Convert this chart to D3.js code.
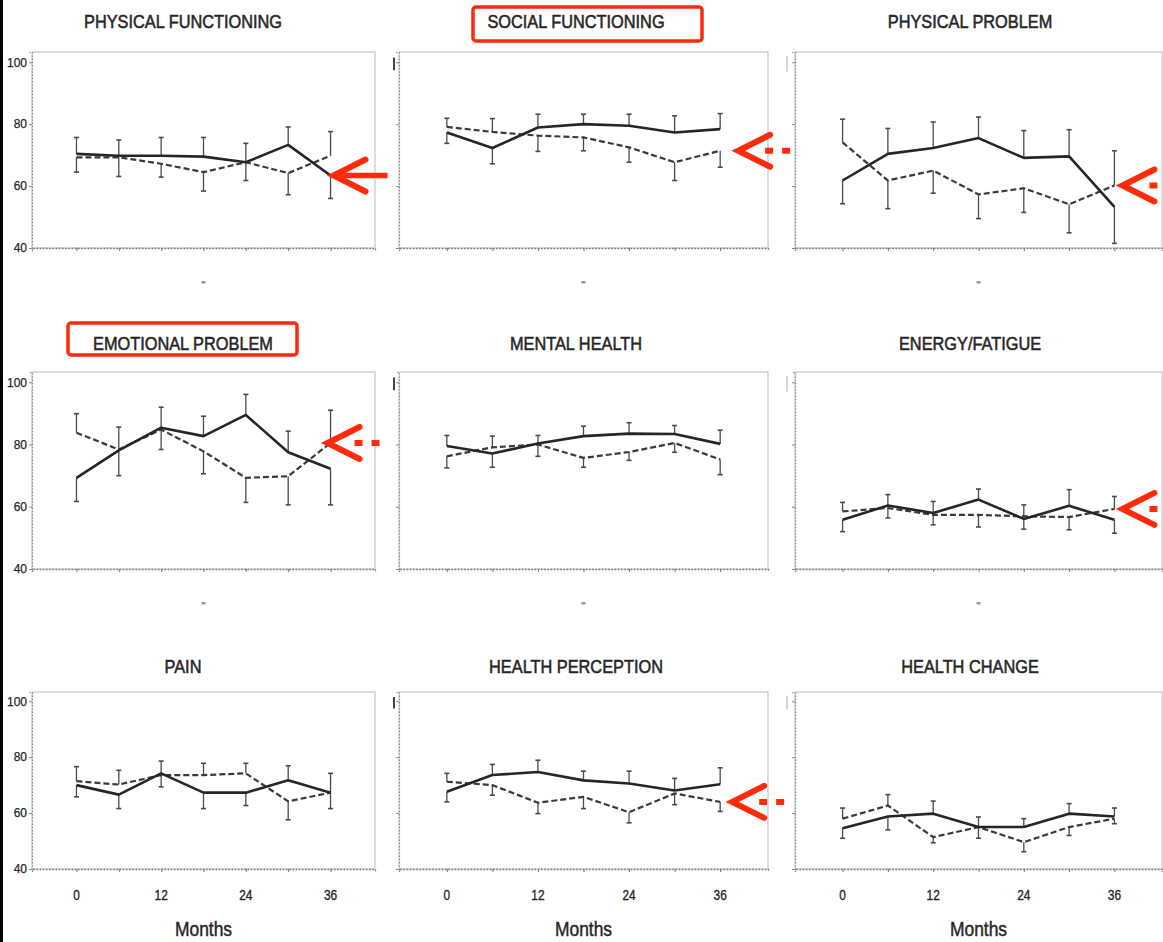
<!DOCTYPE html>
<html>
<head>
<meta charset="utf-8">
<script src="https://cdn.jsdelivr.net/npm/d3@7"></script>
<style>
  body { margin: 0; background: #fff; }
  svg { display: block; }
</style>
</head>
<body>
<script>
// Follow-up months and tick labels
const months = [0, 6, 12, 18, 24, 30, 36];
const monthLabels = [0, 12, 24, 36];
const scoreTicks = [40, 60, 80, 100];
const xTitle = "Months";

// Scale titles, in grid order (row by row)
const titles = [
  "PHYSICAL FUNCTIONING", "SOCIAL FUNCTIONING", "PHYSICAL PROBLEM",
  "EMOTIONAL PROBLEM", "MENTAL HEALTH", "ENERGY/FATIGUE",
  "PAIN", "HEALTH PERCEPTION", "HEALTH CHANGE"
];

// Mean scores per group (solid / dashed) and their error-bar half widths
const physFuncSolid     = [70.4, 69.8, 69.8, 69.5, 67.7, 73.3, 63.4];
const physFuncDashed    = [69.3, 69.3, 67.2, 64.5, 67.7, 64.2, 69.8];
const physFuncSolidErr  = [5.3, 5.1, 5.9, 6.2, 6.1, 5.8, 7.4];
const physFuncDashedErr = [4.8, 6.2, 4.3, 6.1, 5.9, 7.0, 7.8];

const socialSolid     = [77.3, 72.3, 78.9, 80.0, 79.5, 77.3, 78.4];
const socialDashed    = [79.1, 77.5, 76.3, 75.7, 72.5, 67.7, 71.4];
const socialSolidErr  = [3.5, 5.1, 4.3, 3.2, 3.7, 5.4, 5.0];
const socialDashedErr = [2.8, 4.3, 5.1, 4.3, 4.8, 5.9, 5.3];

const physProbSolid     = [61.8, 70.4, 72.3, 75.5, 69.1, 69.6, 53.3];
const physProbDashed    = [74.1, 61.8, 65.0, 57.3, 59.3, 54.1, 60.2];
const physProbSolidErr  = [7.5, 8.2, 8.4, 6.8, 8.8, 8.6, 11.8];
const physProbDashedErr = [7.5, 9.1, 7.3, 7.8, 7.8, 9.2, 11.2];

const emoProbSolid     = [69.3, 78.1, 85.4, 82.7, 89.5, 77.5, 72.2];
const emoProbDashed    = [83.8, 78.4, 84.8, 77.8, 69.3, 69.8, 80.5];
const emoProbSolidErr  = [7.6, 8.1, 6.6, 6.4, 6.6, 6.8, 11.6];
const emoProbDashedErr = [6.1, 7.2, 6.4, 7.2, 7.9, 9.2, 10.5];

const mentalSolid     = [79.5, 77.1, 80.3, 82.7, 83.5, 83.4, 80.2];
const mentalDashed    = [76.2, 79.1, 80.0, 75.7, 77.6, 80.5, 75.2];
const mentalSolidErr  = [3.4, 4.4, 2.6, 3.2, 3.5, 2.7, 4.4];
const mentalDashedErr = [3.7, 3.6, 3.8, 3.0, 2.7, 3.0, 4.9];

const energySolid     = [55.8, 60.4, 58.0, 62.3, 56.1, 60.3, 55.8];
const energyDashed    = [58.5, 59.6, 57.4, 57.4, 56.9, 56.7, 59.3];
const energySolidErr  = [3.8, 3.5, 3.7, 3.4, 3.3, 5.2, 4.3];
const energyDashedErr = [2.9, 3.2, 3.2, 3.9, 3.7, 4.1, 4.0];

const painSolid     = [70.0, 66.6, 74.2, 67.3, 67.3, 71.7, 67.3];
const painDashed    = [71.4, 70.2, 73.6, 73.6, 74.2, 64.2, 67.3];
const painSolidErr  = [4.2, 5.0, 4.4, 5.7, 4.6, 5.2, 6.9];
const painDashedErr = [5.2, 5.1, 4.2, 4.2, 3.6, 6.6, 5.7];

const perceptSolid     = [67.6, 73.6, 74.7, 71.7, 70.6, 68.1, 70.3];
const perceptDashed    = [71.2, 70.0, 63.7, 65.8, 60.3, 67.0, 64.0];
const perceptSolidErr  = [3.6, 3.8, 4.2, 3.3, 4.4, 4.3, 5.9];
const perceptDashedErr = [3.0, 3.6, 3.9, 4.2, 3.8, 4.0, 3.4];

const changeSolid     = [54.6, 58.8, 59.8, 55.0, 55.0, 59.8, 58.8];
const changeDashed    = [58.0, 62.7, 51.4, 55.0, 49.6, 55.0, 58.0];
const changeSolidErr  = [3.6, 4.8, 4.5, 3.6, 3.0, 3.6, 3.0];
const changeDashedErr = [3.8, 3.9, 2.0, 4.0, 3.4, 3.0, 1.8];

// Panels in grid order
const panels = [
  [physFuncSolid, physFuncDashed, physFuncSolidErr, physFuncDashedErr],
  [socialSolid, socialDashed, socialSolidErr, socialDashedErr],
  [physProbSolid, physProbDashed, physProbSolidErr, physProbDashedErr],
  [emoProbSolid, emoProbDashed, emoProbSolidErr, emoProbDashedErr],
  [mentalSolid, mentalDashed, mentalSolidErr, mentalDashedErr],
  [energySolid, energyDashed, energySolidErr, energyDashedErr],
  [painSolid, painDashed, painSolidErr, painDashedErr],
  [perceptSolid, perceptDashed, perceptSolidErr, perceptDashedErr],
  [changeSolid, changeDashed, changeSolidErr, changeDashedErr]
].map((p, i) => ({ title: titles[i], solid: p[0], dashed: p[1], solidErr: p[2], dashedErr: p[3] }));

// Highlighted titles and call-out arrows
const boxedTitles = ["SOCIAL FUNCTIONING", "EMOTIONAL PROBLEM"];
const arrowPanels = [0, 1, 2, 3, 5, 7];
const arrowSeries = ["solid", "dashed", "dashed", "dashed", "dashed", "dashed"];

// ---- layout ----
const W = 1163, H = 942;
const cols = [{ x0: 32, x1: 375 }, { x0: 399, x1: 768 }, { x0: 795, x1: 1162 }];
const rows = [
  { top: 52, bottom: 248, titleY: 28 },
  { top: 372, bottom: 569, titleY: 350 },
  { top: 692, bottom: 869, titleY: 673 }
];
const titleCentres = [183, 576, 970];
const RED = "#ff2a0a";
const FONT = "'Liberation Sans', Arial, sans-serif";
const INK = "#262626";

const svg = d3.select("body").append("svg")
  .attr("width", W).attr("height", H)
  .style("font-family", FONT);

svg.append("rect").attr("width", W).attr("height", H).attr("fill", "#fff");
// page rule on the left edge
svg.append("rect").attr("x", 0).attr("y", 0).attr("width", 3).attr("height", H).attr("fill", "#000");

const boxPad = {
  "SOCIAL FUNCTIONING": { l: 103, r: 126, t: 21, b: 13 },
  "EMOTIONAL PROBLEM": { l: 115, r: 114, t: 27, b: 5 }
};
const arrowOffset = [3, 18, 8, -3, 8, 12];

panels.forEach((p, i) => {
  const c = cols[i % 3], r = rows[Math.floor(i / 3)];
  const ri = Math.floor(i / 3), ci = i % 3;
  const x = d3.scaleLinear().domain([-6.3, 42.3]).range([c.x0, c.x1]);
  const y = d3.scaleLinear().domain([40, 103.3]).range([r.bottom, r.top]);
  const g = svg.append("g");

  // title
  const tcx = titleCentres[ci];
  g.append("text")
    .attr("transform", `translate(${tcx},${r.titleY}) scale(0.86,1)`)
    .attr("text-anchor", "middle")
    .attr("font-size", 19)
    .attr("fill", INK).attr("stroke", INK).attr("stroke-width", 0.55)
    .text(p.title);

  if (boxedTitles.includes(p.title)) {
    const b = boxPad[p.title];
    g.append("rect")
      .attr("x", tcx - b.l).attr("y", r.titleY - b.t)
      .attr("width", b.l + b.r).attr("height", b.t + b.b)
      .attr("rx", 3)
      .attr("fill", "none").attr("stroke", RED).attr("stroke-width", 3.5);
  }

  // frame
  g.append("rect")
    .attr("x", c.x0).attr("y", r.top)
    .attr("width", c.x1 - c.x0).attr("height", r.bottom - r.top)
    .attr("fill", "none").attr("stroke", "#d2d2d2").attr("stroke-width", 1.5);

  // bottom axis (ticks only; labels added below for the last row)
  const xa = d3.axisBottom(x).tickValues(months).tickSize(3).tickFormat("");
  const gx = g.append("g").attr("transform", `translate(0,${r.bottom})`).call(xa);
  gx.select(".domain").attr("stroke", "#777").attr("stroke-dasharray", "1.6,1.6").attr("stroke-width", 1.3);
  gx.selectAll(".tick line").attr("stroke", "#777");

  if (ri === 2) {
    g.selectAll("text.mlabel").data(monthLabels).join("text")
      .attr("class", "mlabel")
      .attr("transform", d => `translate(${x(d)},${r.bottom + 31}) scale(0.85,1)`)
      .attr("text-anchor", "middle")
      .attr("font-size", 14)
      .attr("fill", INK).attr("stroke", INK).attr("stroke-width", 0.35)
      .text(d => d);
  }

  // left axis
  const ya = d3.axisLeft(y).tickValues(scoreTicks).tickSize(3).tickPadding(2)
    .tickFormat(d => ci === 0 ? String(d) : "");
  const gy = g.append("g").attr("transform", `translate(${c.x0},0)`).call(ya);
  gy.select(".domain").attr("stroke", "#888").attr("stroke-dasharray", "1.4,1.8").attr("stroke-width", 1.2);
  gy.selectAll(".tick line").attr("stroke", "#888");
  gy.selectAll(".tick text").attr("font-family", FONT).attr("font-size", 12)
    .attr("fill", INK).attr("stroke", INK).attr("stroke-width", 0.25);

  // clipped axis label remnants on inner columns
  if (ci === 1) {
    g.append("line").attr("x1", c.x0 - 5).attr("x2", c.x0 - 5)
      .attr("y1", y(101.5)).attr("y2", y(97.4))
      .attr("stroke", "#444").attr("stroke-width", 2);
  } else if (ci === 2) {
    g.append("line").attr("x1", c.x0 - 8).attr("x2", c.x0 - 8)
      .attr("y1", y(102)).attr("y2", y(97))
      .attr("stroke", "#bbb").attr("stroke-width", 1.2);
  }

  // x title or collapsed marker
  if (ri === 2) {
    g.append("text")
      .attr("transform", `translate(${x(18)},${H - 6}) scale(0.83,1)`)
      .attr("text-anchor", "middle").attr("font-size", 21)
      .attr("fill", INK).attr("stroke", INK).attr("stroke-width", 0.45)
      .text(xTitle);
  } else {
    g.append("rect").attr("x", x(18) - 2).attr("y", r.bottom + 33)
      .attr("width", 4).attr("height", 2.5).attr("fill", "#999");
  }

  // error bars: higher group extends upward, lower group downward
  months.forEach((m, k) => {
    const s = p.solid[k], d = p.dashed[k];
    const sUp = s >= d;
    const bars = [
      [s, sUp ? s + p.solidErr[k] : s - p.solidErr[k]],
      [d, sUp ? d - p.dashedErr[k] : d + p.dashedErr[k]]
    ];
    bars.forEach(([a, e]) => {
      g.append("line").attr("x1", x(m)).attr("x2", x(m))
        .attr("y1", y(a)).attr("y2", y(e))
        .attr("stroke", "#4a4a4a").attr("stroke-width", 1.3);
      g.append("line").attr("x1", x(m) - 2.5).attr("x2", x(m) + 2.5)
        .attr("y1", y(e)).attr("y2", y(e))
        .attr("stroke", "#4a4a4a").attr("stroke-width", 1.6);
    });
  });

  const line = d3.line().x((v, k) => x(months[k])).y(v => y(v));
  g.append("path").datum(p.dashed).attr("d", line)
    .attr("fill", "none").attr("stroke", "#3a3a3a").attr("stroke-width", 2.2)
    .attr("stroke-dasharray", "6,3");
  g.append("path").datum(p.solid).attr("d", line)
    .attr("fill", "none").attr("stroke", INK).attr("stroke-width", 2.6)
    .attr("stroke-linejoin", "round");

  // call-out arrow pointing at the last value
  const ai = arrowPanels.indexOf(i);
  if (ai >= 0) {
    const series = arrowSeries[ai];
    const tx = x(36) + arrowOffset[ai];
    const ty = y(p[series][p[series].length - 1]);
    const a = svg.append("g").attr("transform", `translate(${tx},${ty})`);
    a.append("path").attr("d", "M32,-16L0,0L32,16")
      .attr("fill", "none").attr("stroke", RED).attr("stroke-width", 6)
      .attr("stroke-linecap", "round").attr("stroke-linejoin", "miter");
    if (series === "solid") {
      a.append("line").attr("x1", 2).attr("x2", 54).attr("y1", 0).attr("y2", 0)
        .attr("stroke", RED).attr("stroke-width", 5.5);
    } else {
      a.append("line").attr("x1", 27).attr("x2", 52).attr("y1", 0).attr("y2", 0)
        .attr("stroke", RED).attr("stroke-width", 6).attr("stroke-dasharray", "8,9");
    }
  }
});
</script>
</body>
</html>
